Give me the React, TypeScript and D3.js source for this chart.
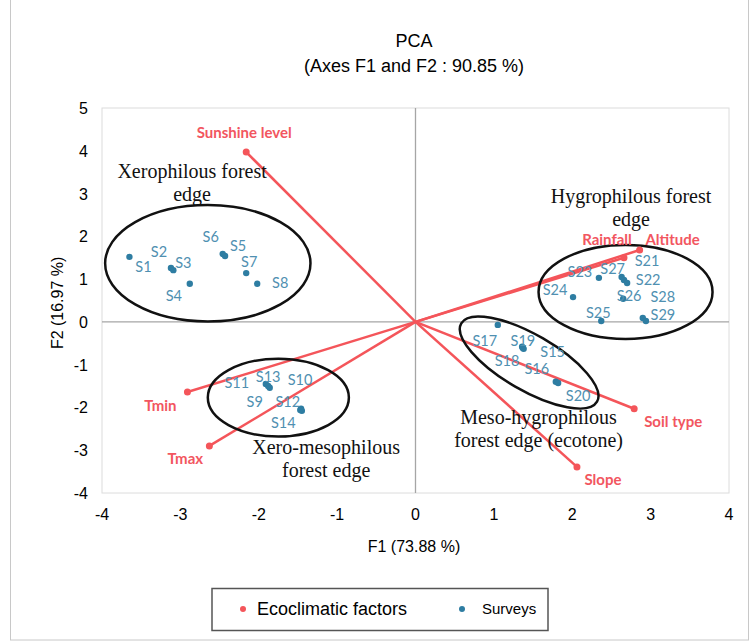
import React from "react";
import * as d3 from "d3";

// survey scores on F1 / F2
const surveyNames = ["S1", "S2", "S3", "S4", "S5", "S6", "S7", "S8", "S9", "S10", "S11", "S12", "S13", "S14", "S15",
  "S16", "S17", "S18", "S19", "S20", "S21", "S22", "S23", "S24", "S25", "S26", "S27", "S28", "S29"];
const surveyF1 = [-3.65, -3.12, -3.09, -2.88, -2.43, -2.46, -2.16, -2.02, -1.86, -1.46, -1.91, -1.45, -1.88, -1.47, 1.38,
  1.79, 1.05, 1.36, 1.37, 1.82, 2.66, 2.70, 2.34, 2.01, 2.37, 2.65, 2.63, 2.90, 2.94];
const surveyF2 = [1.52, 1.26, 1.21, 0.89, 1.54, 1.59, 1.14, 0.89, -1.54, -2.03, -1.45, -2.08, -1.50, -2.06, -0.63,
  -1.40, -0.07, -0.58, -0.61, -1.43, 0.98, 0.91, 1.03, 0.58, 0.02, 0.54, 1.05, 0.09, 0.02];

// ecoclimatic factor loadings
const factorNames = ["Sunshine level", "Tmin", "Tmax", "Soil type", "Slope", "Rainfall", "Altitude"];
const factorF1 = [-2.16, -2.91, -2.63, 2.79, 2.06, 2.66, 2.86];
const factorF2 = [3.97, -1.64, -2.90, -2.03, -3.39, 1.50, 1.68];

const xTicks = [-4, -3, -2, -1, 0, 1, 2, 3, 4];
const yTicks = [-4, -3, -2, -1, 0, 1, 2, 3, 4, 5];

// label placement (px offsets from the point)
const surveyLabelDx = [14, -12, 10, -16, 13, -12, 3, 23, -15, -1, -29, -14, 0, -17, 29, -19, -13, -15, 0, 20, 23, 21, -19, -18, -3, 6, -9, 20, 17];
const surveyLabelDy = [10, -16, -7, 12, -10, -17, -11, -1, 14, -29, -1, -9, -9, 13, 3, -13, 16, 14, -7, 13, -19, -3, -6, -7, -8, -3, -8, -21, -6];
const factorLabelDx = [-2, -27, -24, 39, 26, -17, 33];
const factorLabelDy = [-19, 14, 13, 13, 13, -18, -10];

// group annotations
const groupLines = [
  ["Xerophilous forest", "edge"],
  ["Hygrophilous forest", "edge"],
  ["Xero-mesophilous", "forest edge"],
  ["Meso-hygrophilous", "forest edge (ecotone)"],
];
const groupTextF1 = [-2.85, 2.75, -1.14, 1.57];
const groupTextF2 = [3.36, 2.79, -3.09, -2.39];
const ellipseF1 = [-2.65, 2.68, -1.75, 1.45];
const ellipseF2 = [1.37, 0.70, -1.77, -0.95];
const ellipseRx = [1.31, 1.11, 0.9, 1.0];
const ellipseRy = [1.36, 1.1, 0.91, 0.65];
const ellipseRot = [0, 0, 0, 30];

const W = 753;
const H = 643;
const sans = "'Liberation Sans', Arial, sans-serif";
const calib = "Lato, 'Open Sans', sans-serif";
const serif = "'Liberation Serif', 'Times New Roman', serif";
const red = "#f4555a";
const redText = "#f25660";
const blue = "#2e7da2";
const blueText = "#4f90b1";

export default function App() {
  const x = d3.scaleLinear().domain([-4, 4]).range([102, 729]);
  const y = d3.scaleLinear().domain([-4, 5]).range([493, 108]);

  return (
    <svg width={W} height={H} style={{ position: "absolute", left: 0, top: 0, background: "#fff" }}>
      <rect x={10.5} y={-2} width={738} height={642} fill="#fff" stroke="#c8c8c8" />
      <text x={414} y={47} textAnchor="middle" fontFamily={sans} fontSize={18}>PCA</text>
      <text x={414} y={72} textAnchor="middle" fontFamily={sans} fontSize={18}>(Axes F1 and F2 : 90.85 %)</text>

      <rect x={x(-4)} y={y(5)} width={x(4) - x(-4)} height={y(-4) - y(5)} fill="none" stroke="#dcdcdc" />
      <line x1={x(-4)} x2={x(4)} y1={y(0)} y2={y(0)} stroke="#a6a6a6" strokeWidth={1.3} />
      <line x1={x(0)} x2={x(0)} y1={y(5)} y2={y(-4)} stroke="#a6a6a6" strokeWidth={1.3} />

      {xTicks.map((t) => (
        <text key={"x" + t} x={x(t)} y={520} textAnchor="middle" fontFamily={sans} fontSize={16}>{t}</text>
      ))}
      {yTicks.map((t) => (
        <text key={"y" + t} x={88} y={y(t) + 6} textAnchor="end" fontFamily={sans} fontSize={16}>{t}</text>
      ))}
      <text x={414} y={552} textAnchor="middle" fontFamily={sans} fontSize={16}>F1 (73.88 %)</text>
      <text transform={`translate(63,${y(0) - 19}) rotate(-90)`} textAnchor="middle" fontFamily={sans} fontSize={16}>F2 (16.97 %)</text>

      {factorNames.map((n, i) => (
        <line key={"l" + n} x1={x(0)} y1={y(0)} x2={x(factorF1[i])} y2={y(factorF2[i])} stroke={red} strokeWidth={2.5} />
      ))}

      {groupLines.map((g, i) => (
        <ellipse key={"e" + i} cx={x(ellipseF1[i])} cy={y(ellipseF2[i])}
          rx={x(ellipseRx[i]) - x(0)} ry={y(0) - y(ellipseRy[i])}
          transform={`rotate(${ellipseRot[i]},${x(ellipseF1[i])},${y(ellipseF2[i])})`}
          fill="none" stroke="#111" strokeWidth={2.5} />
      ))}

      {groupLines.map((g, i) => (
        <text key={"g" + i} x={x(groupTextF1[i])} y={y(groupTextF2[i])} textAnchor="middle" fontFamily={serif} fontSize={20} fill="#111">
          {g.map((s, j) => (
            <tspan key={j} x={x(groupTextF1[i])} dy={j === 0 ? 0 : 23}>{s}</tspan>
          ))}
        </text>
      ))}

      {factorNames.map((n, i) => (
        <g key={"f" + n}>
          <circle cx={x(factorF1[i])} cy={y(factorF2[i])} r={3.5} fill={red} />
          <text x={x(factorF1[i]) + factorLabelDx[i]} y={y(factorF2[i]) + factorLabelDy[i]} dy="0.35em"
            textAnchor="middle" fontFamily={calib} fontWeight="bold" fontSize={15} fill={redText}>{n}</text>
        </g>
      ))}

      {surveyNames.map((n, i) => (
        <g key={n}>
          <circle cx={x(surveyF1[i])} cy={y(surveyF2[i])} r={3.2} fill={blue} />
          <text x={x(surveyF1[i]) + surveyLabelDx[i]} y={y(surveyF2[i]) + surveyLabelDy[i]} dy="0.35em"
            textAnchor="middle" fontFamily={calib} fontSize={14.5} fill={blueText}>{n}</text>
        </g>
      ))}

      <rect x={212} y={588.5} width={336} height={42} fill="#fff" stroke="#555" strokeWidth={1.5} />
      <circle cx={243} cy={609} r={3} fill={red} />
      <text x={257} y={615} fontFamily={sans} fontSize={18}>Ecoclimatic factors</text>
      <circle cx={462} cy={609} r={3} fill={blue} />
      <text x={482} y={614} fontFamily={sans} fontSize={15}>Surveys</text>
    </svg>
  );
}
